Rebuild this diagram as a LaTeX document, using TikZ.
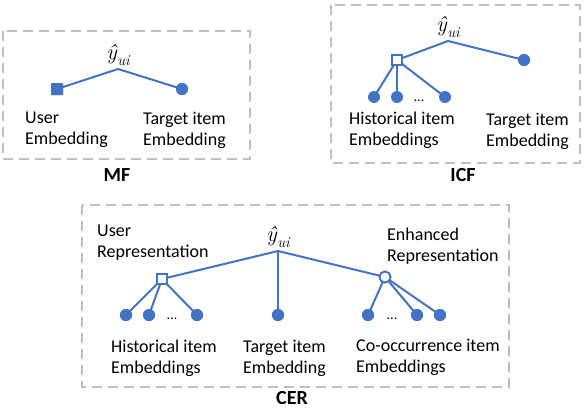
\documentclass[tikz,border=0pt]{standalone}
\usepackage{fontspec}
\setmainfont{Carlito}
\newfontfamily\lmfont{Latin Modern Roman}
\definecolor{nodeblue}{HTML}{4472C4}
\definecolor{boxgray}{HTML}{BFBFBF}
\newcommand{\yhatui}{{\lmfont\itshape ŷ\kern0.5pt\raisebox{-0.28em}{\fontsize{15}{16}\selectfont ui}}}
\begin{document}
\begin{tikzpicture}[x=1pt,y=-1pt,
  frame/.style={draw=boxgray,line width=2.8pt,dash pattern=on 10pt off 6pt},
  link/.style={draw=nodeblue,line width=2pt},
  dotfill/.style={circle,fill=nodeblue,minimum size=12pt,inner sep=0pt},
  dothollow/.style={circle,draw=nodeblue,fill=white,line width=1.8pt,minimum size=11pt,inner sep=0pt},
  sqfill/.style={rectangle,fill=nodeblue,minimum size=12pt,inner sep=0pt,rounded corners=1pt},
  sqhollow/.style={rectangle,draw=nodeblue,fill=white,line width=1.8pt,minimum size=10.5pt,inner sep=0pt},
  lbl/.style={anchor=north west,inner sep=0pt,align=left,font=\fontsize{18}{21}\selectfont},
  title/.style={inner sep=0pt,font=\fontsize{20}{22}\selectfont\bfseries},
  yh/.style={inner sep=0pt,font=\fontsize{22}{24}\selectfont},
  ellip/.style={anchor=base,inner sep=0pt,font=\fontsize{14}{16}\selectfont}]
\useasboundingbox (0,0) rectangle (584,410);
% ---------- MF ----------
\draw[frame] (3,31) rectangle (250,159);
\node[yh] (mfy) at (118,55) {\yhatui};
\coordinate (mfa) at (118,69);
\node[sqfill] (mfu) at (57,89) {};
\node[dotfill] (mft) at (182,89) {};
\draw[link] (mfu.center) -- (mfa) -- (mft.center);
\node[sqfill] at (mfu) {};
\node[dotfill] at (mft) {};
\node[lbl] (mful) at (25,112) {User\\Embedding};
\node[lbl] (mftl) at (143,112) {Target item\\Embedding};
\node[title] (mftitle) at (117,175) {MF};
% ---------- ICF ----------
\draw[frame] (331,5) rectangle (580,163);
\node[yh] (icy) at (448,27) {\yhatui};
\coordinate (ica) at (448,41);
\node[sqhollow] (icu) at (397,60) {};
\node[dotfill] (ict) at (524,60) {};
\node[dotfill] (ich1) at (374,97) {};
\node[dotfill] (ich2) at (397,97) {};
\node[dotfill] (ich3) at (445,97) {};
\draw[link] (icu.center) -- (ica) -- (ict.center);
\draw[link] (icu.center) -- (ich1.center);
\draw[link] (icu.center) -- (ich2.center);
\draw[link] (icu.center) -- (ich3.center);
\node[sqhollow] at (icu) {};
\node[dotfill] at (ict) {};
\node[ellip] (icd) at (419,101) {...};
\node[lbl] (ichl) at (349,112) {Historical item\\Embeddings};
\node[lbl] (ictl) at (486,113) {Target item\\Embedding};
\node[title] (ictitle) at (463,175) {ICF};
% ---------- CER ----------
\draw[frame] (82,205) rectangle (509,387);
\node[yh] (cey) at (278,237) {\yhatui};
\coordinate (cea) at (278,251);
\node[sqhollow] (ceu) at (162,279) {};
\node[dotfill] (cet) at (278,315) {};
\node[dothollow] (cee) at (385,277) {};
\node[dotfill] (ceh1) at (126,315) {};
\node[dotfill] (ceh2) at (149,315) {};
\node[dotfill] (ceh3) at (197,315) {};
\node[dotfill] (cec1) at (368,315) {};
\node[dotfill] (cec2) at (417,315) {};
\node[dotfill] (cec3) at (440,315) {};
\draw[link] (ceu.center) -- (cea) -- (cee.center);
\draw[link] (cea) -- (cet.center);
\draw[link] (ceu.center) -- (ceh1.center);
\draw[link] (ceu.center) -- (ceh2.center);
\draw[link] (ceu.center) -- (ceh3.center);
\draw[link] (cee.center) -- (cec1.center);
\draw[link] (cee.center) -- (cec2.center);
\draw[link] (cee.center) -- (cec3.center);
\node[sqhollow] at (ceu) {};
\node[dothollow] at (cee) {};
\node[dotfill] at (cet) {};
\foreach \n in {ceh1,ceh2,ceh3,cec1,cec2,cec3} {\node[dotfill] at (\n) {};}
\node[ellip] (ced1) at (172,319) {...};
\node[ellip] (ced2) at (392,319) {...};
\node[lbl] (ceul) at (97,225) {User\\Representation};
\node[lbl] (ceel) at (387,228) {Enhanced\\Representation};
\node[lbl] (cehl) at (111,340) {Historical item\\Embeddings};
\node[lbl] (cetl) at (243,340) {Target item\\Embedding};
\node[lbl] (cecl) at (356,339) {Co-occurrence item\\Embeddings};
\node[title] (cetitle) at (292,398) {CER};
\end{tikzpicture}
\end{document}
